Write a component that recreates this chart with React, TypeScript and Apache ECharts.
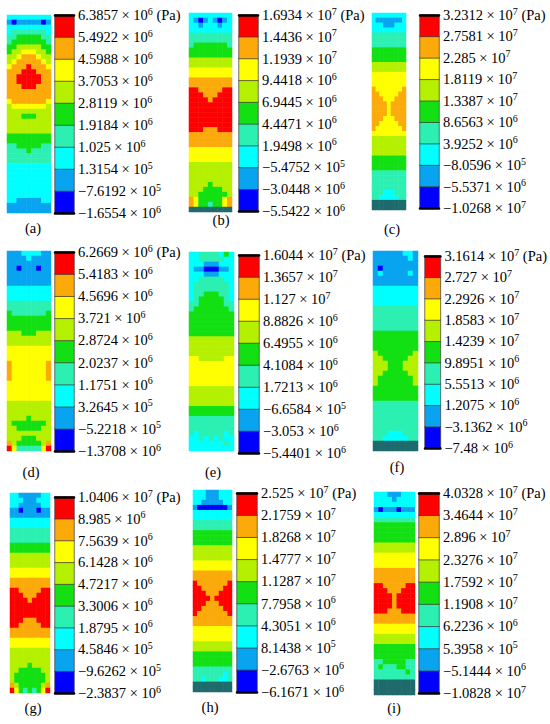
import React, { useEffect, useRef } from "react";
import * as echarts from "echarts";

// Band colours, index 0 = lowest (blue) ... 8 = highest (red); 9 = dark support plate
const BAND_COLORS = ["#0000FF", "#08A4F0", "#00FFFF", "#2CF0B2", "#12E012", "#B4F000", "#FFFF00", "#FBAA0A", "#FF0000"];
const BASE_COLOR = "#1F6A6C";
const PANEL_IDS = ["a", "b", "c", "d", "e", "f", "g", "h", "i"];

// Colour-bar tick labels (top to bottom), written as mantissa e exponent
const TICKS_A = ["6.3857e6", "5.4922e6", "4.5988e6", "3.7053e6", "2.8119e6", "1.9184e6", "1.025e6", "1.3154e5", "-7.6192e5", "-1.6554e6"];
const TICKS_B = ["1.6934e7", "1.4436e7", "1.1939e7", "9.4418e6", "6.9445e6", "4.4471e6", "1.9498e6", "-5.4752e5", "-3.0448e6", "-5.5422e6"];
const TICKS_C = ["3.2312e7", "2.7581e7", "2.285e7", "1.8119e7", "1.3387e7", "8.6563e6", "3.9252e6", "-8.0596e5", "-5.5371e6", "-1.0268e7"];
const TICKS_D = ["6.2669e6", "5.4183e6", "4.5696e6", "3.721e6", "2.8724e6", "2.0237e6", "1.1751e6", "3.2645e5", "-5.2218e5", "-1.3708e6"];
const TICKS_E = ["1.6044e7", "1.3657e7", "1.127e7", "8.8826e6", "6.4955e6", "4.1084e6", "1.7213e6", "-6.6584e5", "-3.053e6", "-5.4401e6"];
const TICKS_F = ["3.1614e7", "2.727e7", "2.2926e7", "1.8583e7", "1.4239e7", "9.8951e6", "5.5513e6", "1.2075e6", "-3.1362e6", "-7.48e6"];
const TICKS_G = ["1.0406e7", "8.985e6", "7.5639e6", "6.1428e6", "4.7217e6", "3.3006e6", "1.8795e6", "4.5846e5", "-9.6262e5", "-2.3837e6"];
const TICKS_H = ["2.525e7", "2.1759e7", "1.8268e7", "1.4777e7", "1.1287e7", "7.7958e6", "4.3051e6", "8.1438e5", "-2.6763e6", "-6.1671e6"];
const TICKS_I = ["4.0328e7", "3.4644e7", "2.896e7", "2.3276e7", "1.7592e7", "1.1908e7", "6.2236e6", "5.3958e5", "-5.1444e6", "-1.0828e7"];

// Contour maps: each string is one row (top to bottom), each digit the band of a cell (left to right)
const MAP_A = [
  "222222222", "101111101", "222222222", "233333332", "334444433", "344444443", "445555544", "455666554",
  "556777655", "567777765", "677787776", "777888777", "778888877", "778888877", "777888777", "777777777",
  "777777777", "677777776", "566666665", "555555555", "555444555", "555555555", "555555555", "555555555",
  "444444444", "444444444", "334444433", "333343333", "333333333", "333333333", "222222222", "222222222",
  "222222222", "222222222", "222222222", "222222222", "222222222", "221111122", "111111111", "111111111",
];
const MAP_B = [
  "222222222", "210121012", "221222122", "222222222", "333333333", "333333333", "344444443", "444444444",
  "444444444", "555555555", "555555555", "666666666", "666666666", "777777777", "777777777", "887777788",
  "888777888", "888878888", "888888888", "888888888", "888888888", "888888888", "888888888", "888777888",
  "777777777", "777777777", "777777777", "666666666", "666666666", "666666666", "555555555", "555555555",
  "555555555", "555555555", "555545555", "555444455", "554444445", "764444467", "764434467", "999999999",
];
const MAP_C = [
  "222222222", "211111112", "222111222", "222222222", "333333333", "333333333", "333333333", "444444444",
  "444444444", "444444444", "555555555", "555555555", "666666666", "666666666", "666666666", "766666667",
  "776666677", "777666777", "777767777", "777767777", "777767777", "777666777", "776666677", "766666667",
  "666666666", "555555555", "555555555", "555555555", "555555555", "444444444", "444444444", "444444444",
  "333333333", "333333333", "333333333", "333333333", "333222333", "332222233", "999999999", "999999999",
];
const MAP_D = [
  "111222211", "111121111", "111111111", "110111011", "111111111", "111111111", "111111111", "222222222",
  "222222222", "222222222", "333333333", "333333333", "433333334", "444444444", "444444444", "444444444",
  "555444555", "555555555", "555555555", "666666666", "666666666", "666666666", "766666667", "766666667",
  "766666667", "766666667", "666666666", "666666666", "666666666", "666666666", "555555555", "555555555",
  "555555555", "555545555", "544444445", "554444455", "555555555", "555444555", "754444457", "863333368",
];
const MAP_E = [
  "223333242", "223333322", "222111222", "211000112", "222111222", "223333322", "233333332", "233333332",
  "233444332", "234444432", "334444433", "344444443", "444444444", "444444444", "444444444", "444444444",
  "444444444", "555555555", "555555555", "555555555", "555555555", "665555566", "666666666", "666666666",
  "666666666", "666666666", "666666666", "555555555", "555555555", "555555555", "555555555", "444444444",
  "444444444", "333333333", "333333333", "333333333", "323333323", "223232322", "222222232", "222222222",
];
const MAP_F = [
  "111111221", "111111121", "111111111", "101111111", "121111121", "111111111", "111111111", "222222222",
  "222222222", "222222222", "222222222", "333333333", "333333333", "333333333", "333333333", "333333333",
  "444444444", "444444444", "444444444", "444444444", "544444445", "554444455", "555444555", "555444555",
  "554444455", "544444445", "544444445", "444444444", "444444444", "444444444", "333333333", "333333333",
  "333333333", "333333333", "333333333", "333333333", "333222333", "332222233", "999999999", "999999999",
];
const MAP_G = [
  "221111122", "222111222", "221111122", "110111011", "111111111", "222222222", "222222222", "333333333",
  "333333333", "333333333", "444444444", "444444444", "555555555", "555555555", "555555555", "666666666",
  "666666666", "777777777", "777777777", "887777788", "888777888", "888878888", "888888888", "888888888",
  "888888888", "888777888", "887777788", "777777777", "777777777", "666666666", "666666666", "555555555",
  "555555555", "555555555", "555545555", "554444455", "544444445", "544444445", "754444457", "864343468",
];
const MAP_H = [
  "222111222", "222111222", "221111122", "100000001", "222222222", "222222222", "333333333", "333333333",
  "444444444", "444444444", "444444444", "555555555", "555555555", "555555555", "666666666", "666666666",
  "777777777", "777777777", "877777778", "887777788", "888777888", "888878888", "888777888", "887777788",
  "877777778", "777777777", "777777777", "666666666", "666666666", "666666666", "555555555", "555555555",
  "444444444", "444444444", "444444444", "333333333", "333333323", "332333223", "999999999", "999999999",
];
const MAP_I = [
  "222111222", "222212222", "222222222", "101110111", "222222222", "333333333", "444444444", "444444444",
  "444444444", "444444444", "555555555", "555555555", "666666666", "666666666", "666666666", "777777777",
  "777777777", "777777777", "887777788", "888777888", "888878888", "888878888", "888878888", "888777888",
  "777777777", "777777777", "666666666", "666666666", "555555555", "555555555", "444444444", "444444444",
  "444444444", "334444433", "343334433", "333333343", "333333333", "999999999", "999999999", "999999999",
];

const MAPS = [MAP_A, MAP_B, MAP_C, MAP_D, MAP_E, MAP_F, MAP_G, MAP_H, MAP_I];
const TICKS = [TICKS_A, TICKS_B, TICKS_C, TICKS_D, TICKS_E, TICKS_F, TICKS_G, TICKS_H, TICKS_I];

// Layout (pixels): contour box, colour-bar box, caption centre
const LAYOUT = [
  { c: [7, 15, 44, 198], b: [55, 15, 19, 198], cap: [33, 228] },
  { c: [189, 13, 43, 199], b: [239, 15, 19, 196], cap: [221, 220] },
  { c: [372, 13, 34, 197], b: [420, 15, 19, 193], cap: [392, 229] },
  { c: [7, 251, 44, 200], b: [55, 252, 19, 199], cap: [31, 472] },
  { c: [189, 252, 45, 199], b: [239, 255, 20, 198], cap: [213, 472] },
  { c: [373, 251, 45, 200], b: [425, 256, 20, 192], cap: [397, 467] },
  { c: [10, 493, 40, 200], b: [55, 497, 19, 196], cap: [33, 708] },
  { c: [193, 490, 39, 202], b: [237, 493, 20, 199], cap: [210, 707] },
  { c: [374, 492, 41, 203], b: [419, 493, 20, 200], cap: [394, 708] },
];

const FONT = "Liberation Serif";

function fmtTick(t: string, withUnit: boolean): string {
  const [m, e] = t.split("e");
  const mant = m.replace("-", "\u2212");
  return `${mant} \u00d7 10{s|${e}}` + (withUnit ? " (Pa)" : "");
}

function buildOption() {
  const grid: any[] = [];
  const xAxis: any[] = [];
  const yAxis: any[] = [];
  const series: any[] = [];
  const graphic: any[] = [];
  const bandIdx = BAND_COLORS.map((_, i) => i);

  MAPS.forEach((rows, k) => {
    const L = LAYOUT[k];
    const ticks = TICKS[k];
    const gC = grid.length;
    grid.push({ left: L.c[0], top: L.c[1], width: L.c[2], height: L.c[3], containLabel: false });
    const gB = grid.length;
    grid.push({ left: L.b[0], top: L.b[1], width: L.b[2], height: L.b[3], containLabel: false });

    const nCols = rows[0].length;
    const xC = xAxis.length;
    xAxis.push({ type: "category", gridIndex: gC, data: Array.from({ length: nCols }, (_, i) => String(i)), show: false });
    const yC = yAxis.length;
    yAxis.push({ type: "category", gridIndex: gC, data: rows.map((_, i) => String(i)), inverse: true, show: false });
    const data: number[][] = [];
    rows.forEach((row, r) => row.split("").forEach((ch, c) => data.push([c, r, Number(ch)])));
    series.push({
      type: "heatmap", xAxisIndex: xC, yAxisIndex: yC, data, progressive: 0, silent: true,
      itemStyle: { borderWidth: 0 }, emphasis: { disabled: true },
    });

    // colour bar
    const edge = { show: true, onZero: false, lineStyle: { color: "#000", width: 2.5 } };
    const xB = xAxis.length;
    xAxis.push({ type: "category", gridIndex: gB, data: ["0"], position: "bottom", z: 10, axisLine: edge, axisTick: { show: false }, axisLabel: { show: false }, splitLine: { show: false } });
    xAxis.push({ type: "category", gridIndex: gB, data: ["0"], position: "top", z: 10, axisLine: edge, axisTick: { show: false }, axisLabel: { show: false }, splitLine: { show: false } });
    const yB = yAxis.length;
    yAxis.push({ type: "category", gridIndex: gB, data: bandIdx.map(String), show: false });
    yAxis.push({
      type: "value", gridIndex: gB, min: 0, max: ticks.length - 1, interval: 1, position: "right",
      axisLine: { show: false }, axisTick: { show: false }, splitLine: { show: false },
      axisLabel: {
        margin: 4, color: "#000", fontFamily: FONT, fontSize: 14.5, lineHeight: 18,
        formatter: (v: number) => fmtTick(ticks[ticks.length - 1 - Math.round(v)], Math.round(v) === ticks.length - 1),
        rich: { s: { fontSize: 10, fontFamily: FONT, color: "#000", verticalAlign: "top", lineHeight: 11 } },
      },
    });
    series.push({
      type: "heatmap", xAxisIndex: xB, yAxisIndex: yB, data: bandIdx.map((i) => [0, i, i]), progressive: 0, silent: true,
      itemStyle: { borderColor: "#3a3a3a", borderWidth: 0.7 }, emphasis: { disabled: true },
    });

    graphic.push({
      type: "text", x: L.cap[0], y: L.cap[1],
      style: { text: `(${PANEL_IDS[k]})`, fill: "#000", fontFamily: FONT, fontSize: 14.5, align: "center", verticalAlign: "middle" },
    });
  });

  const pieces = BAND_COLORS.map((c, i) => ({ value: i, color: c }));
  pieces.push({ value: 9, color: BASE_COLOR });

  return {
    animation: false,
    backgroundColor: "#ffffff",
    grid,
    xAxis,
    yAxis,
    visualMap: {
      type: "piecewise", show: false, dimension: 2,
      seriesIndex: series.map((_, i) => i),
      pieces,
    },
    series,
    graphic,
  };
}

export default function App() {
  const ref = useRef<HTMLDivElement>(null);
  useEffect(() => {
    const chart = echarts.init(ref.current as HTMLDivElement, null, { renderer: "svg" });
    chart.setOption(buildOption() as any);
    return () => chart.dispose();
  }, []);
  return (
    <div
      ref={ref}
      style={{ position: "absolute", left: 0, top: 0, width: 550, height: 724, background: "#fff" }}
    />
  );
}
